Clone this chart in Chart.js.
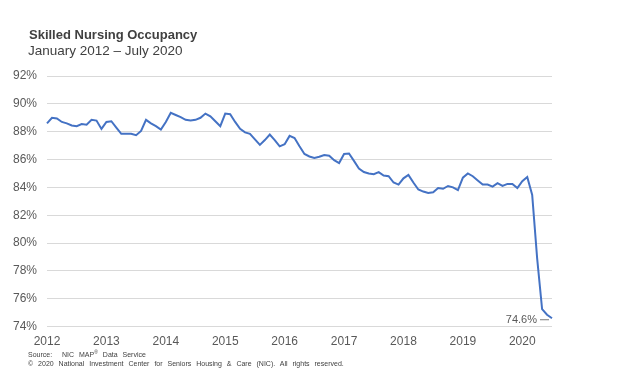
<!DOCTYPE html>
<html lang="en">
<head>
    <meta charset="UTF-8">
    <title>Skilled Nursing Occupancy</title>
    <script src="https://cdn.jsdelivr.net/npm/chart.js"></script>
    <style>
        body { margin: 0; background: #fff; font-family: "Liberation Sans", Arial, sans-serif; }
        #wrap { position: relative; width: 623px; height: 371px; overflow: hidden; }
        #chart { position: absolute; left: 0; top: 0; }
        .title { position: absolute; left: 29px; top: 27px; font-size: 13px; font-weight: bold; color: #404040; }
        .subtitle { position: absolute; left: 28px; top: 43px; font-size: 13.5px; color: #404040; }
        .note { position: absolute; left: 28px; font-size: 7px; color: #404040; word-spacing: 3px; white-space: nowrap; }
    </style>
</head>
<body>
<div id="wrap">
    <canvas id="chart" width="623" height="371"></canvas>
    <div class="title">Skilled Nursing Occupancy</div>
    <div class="subtitle">January 2012 – July 2020</div>
    <div class="note" style="top:349px">Source:&nbsp; NIC MAP<sup style="font-size:5px">®</sup> Data Service</div>
    <div class="note" style="top:360px">© 2020 National Investment Center for Seniors Housing &amp; Care (NIC). All rights reserved.</div>
</div>

<script>
    // monthly occupancy (%), Jan 2012 - Jul 2020
    const years = [2012, 2013, 2014, 2015, 2016, 2017, 2018, 2019, 2020];
    const occ2012 = [88.6, 89.0, 88.95, 88.7, 88.6, 88.45, 88.4, 88.55, 88.5, 88.85, 88.8, 88.2];
    const occ2013 = [88.7, 88.75, 88.3, 87.85, 87.85, 87.85, 87.75, 88.05, 88.85, 88.6, 88.4, 88.15];
    const occ2014 = [88.7, 89.35, 89.2, 89.05, 88.85, 88.8, 88.85, 89.0, 89.3, 89.1, 88.75, 88.4];
    const occ2015 = [89.3, 89.25, 88.7, 88.2, 87.95, 87.85, 87.45, 87.05, 87.4, 87.8, 87.4, 86.95];
    const occ2016 = [87.1, 87.7, 87.55, 86.95, 86.4, 86.22, 86.12, 86.2, 86.33, 86.27, 85.95, 85.75];
    const occ2017 = [86.4, 86.43, 85.9, 85.35, 85.1, 85.0, 84.95, 85.1, 84.85, 84.8, 84.35, 84.2];
    const occ2018 = [84.65, 84.9, 84.35, 83.85, 83.7, 83.6, 83.65, 83.95, 83.9, 84.1, 84.0, 83.8];
    const occ2019 = [84.7, 85.0, 84.8, 84.5, 84.2, 84.2, 84.05, 84.3, 84.1, 84.25, 84.25, 83.95];
    const occ2020 = [84.45, 84.75, 83.45, 78.9, 75.25, 74.85, 74.6];
    const yTicks = [74, 76, 78, 80, 82, 84, 86, 88, 90, 92];
    const lastLabel = '74.6%';

    const allYears = [occ2012, occ2013, occ2014, occ2015, occ2016, occ2017, occ2018, occ2019, occ2020];
    const labels = [];
    const values = [];
    allYears.forEach((arr, i) => {
        arr.forEach((v, m) => {
            labels.push(m === 0 ? String(years[i]) : '');
            values.push(v);
        });
    });

    const gray = '#595959';

    // label on the last point
    const endLabel = {
        id: 'endLabel',
        afterDatasetsDraw(chart) {
            const meta = chart.getDatasetMeta(0);
            const pt = meta.data[meta.data.length - 1];
            const ctx = chart.ctx;
            ctx.save();
            ctx.strokeStyle = gray;
            ctx.lineWidth = 0.8;
            ctx.beginPath();
            ctx.moveTo(pt.x - 12, pt.y + 1.5);
            ctx.lineTo(pt.x - 3, pt.y + 1.5);
            ctx.stroke();
            ctx.fillStyle = gray;
            ctx.font = '11px "Liberation Sans", Arial, sans-serif';
            ctx.textAlign = 'right';
            ctx.textBaseline = 'middle';
            ctx.fillText(lastLabel, pt.x - 15, pt.y + 2);
            ctx.restore();
        }
    };

    new Chart(document.getElementById('chart'), {
        type: 'line',
        data: {
            labels: labels,
            datasets: [{
                data: values,
                borderColor: '#4472C4',
                borderWidth: 2,
                pointRadius: 0,
                tension: 0,
                fill: false
            }]
        },
        options: {
            responsive: false,
            animation: false,
            layout: { padding: { left: 0, right: 71, top: 76, bottom: 22 } },
            plugins: { legend: { display: false }, tooltip: { enabled: false } },
            scales: {
                x: {
                    offset: false,
                    grid: { display: false },
                    border: { display: false },
                    ticks: {
                        autoSkip: false,
                        maxRotation: 0,
                        color: gray,
                        padding: 0,
                        font: { family: '"Liberation Sans", Arial, sans-serif', size: 12 }
                    }
                },
                y: {
                    min: 74,
                    max: 92,
                    afterBuildTicks(scale) { scale.ticks = yTicks.map(v => ({ value: v })); },
                    afterFit(scale) { scale.width = 47; },
                    grid: { color: '#d9d9d9', lineWidth: 1, drawTicks: false },
                    border: { display: false },
                    ticks: {
                        color: gray,
                        padding: 10,
                        font: { family: '"Liberation Sans", Arial, sans-serif', size: 12 },
                        callback: v => v + '%'
                    }
                }
            }
        },
        plugins: [endLabel]
    });
</script>
</body>
</html>
